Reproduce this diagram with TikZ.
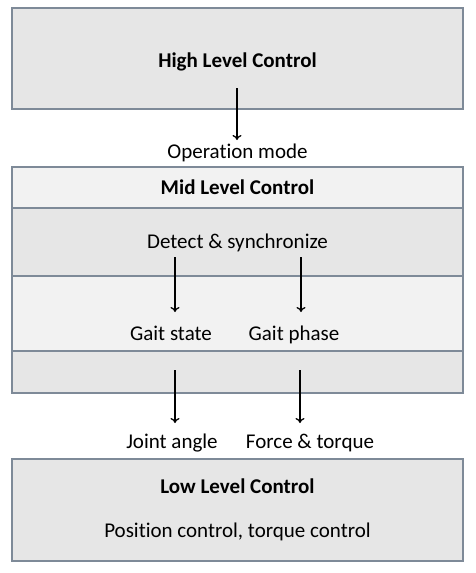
\documentclass[tikz,border=0pt]{standalone}
\usepackage{fontspec}
\setmainfont[Ligatures=CommonOff]{Carlito}
\usetikzlibrary{arrows.meta}
\begin{document}
\begin{tikzpicture}[x=1pt,y=-1pt,
  panel/.style={draw=edgecol,line width=1.4pt,inner sep=0pt,outer sep=0pt},
  lbl/.style={font=\fontsize{21}{24}\selectfont,inner sep=0pt,anchor=base},
  ttl/.style={font=\fontsize{21}{24}\selectfont\bfseries,inner sep=0pt,anchor=base},
  flow/.style={-{To[length=5pt,width=9pt]},line width=1.3pt,black}]
\definecolor{edgecol}{HTML}{7E8A98}
\definecolor{darkfill}{HTML}{E6E6E6}
\definecolor{lightfill}{HTML}{F2F2F2}
\useasboundingbox (0,0) rectangle (475,573);
\fill[white] (0,0) rectangle (475,573);
% high level
\draw[panel,fill=darkfill] (12,8) rectangle (463,109);
\node[ttl] (high) at (237.5,67) {High Level Control};
% mid level rows
\draw[panel,fill=lightfill] (12,167) rectangle (463,208);
\draw[panel,fill=darkfill] (12,208) rectangle (463,276);
\draw[panel,fill=lightfill] (12,276) rectangle (463,351);
\draw[panel,fill=darkfill] (12,351) rectangle (463,393);
\node[ttl] (mid) at (237.5,194) {Mid Level Control};
\node[lbl] (detect) at (237.5,248) {Detect \& synchronize};
\node[lbl] (gstate) at (171,340) {Gait state};
\node[lbl] (gphase) at (294,340) {Gait phase};
% low level
\draw[panel,fill=darkfill] (12,459) rectangle (463,561);
\node[ttl] (low) at (237.5,493) {Low Level Control};
\node[lbl] (pos) at (237.5,537) {Position control, torque control};
% labels between
\node[lbl] (opmode) at (237.5,158) {Operation mode};
\node[lbl] (joint) at (172,448) {Joint angle};
\node[lbl] (force) at (310,448) {Force \& torque};
% anchors for arrows
\coordinate (a1s) at (237,88);
\coordinate (a1e) at (237,140);
\coordinate (a2s) at (175,257);
\coordinate (a2e) at (175,312);
\coordinate (a3s) at (301,257);
\coordinate (a3e) at (301,312);
\coordinate (a4s) at (175,370);
\coordinate (a4e) at (175,423);
\coordinate (a5s) at (300,370);
\coordinate (a5e) at (300,423);
\draw[flow] (a1s) -- (a1e);
\draw[flow] (a2s) -- (a2e);
\draw[flow] (a3s) -- (a3e);
\draw[flow] (a4s) -- (a4e);
\draw[flow] (a5s) -- (a5e);
\end{tikzpicture}
\end{document}
